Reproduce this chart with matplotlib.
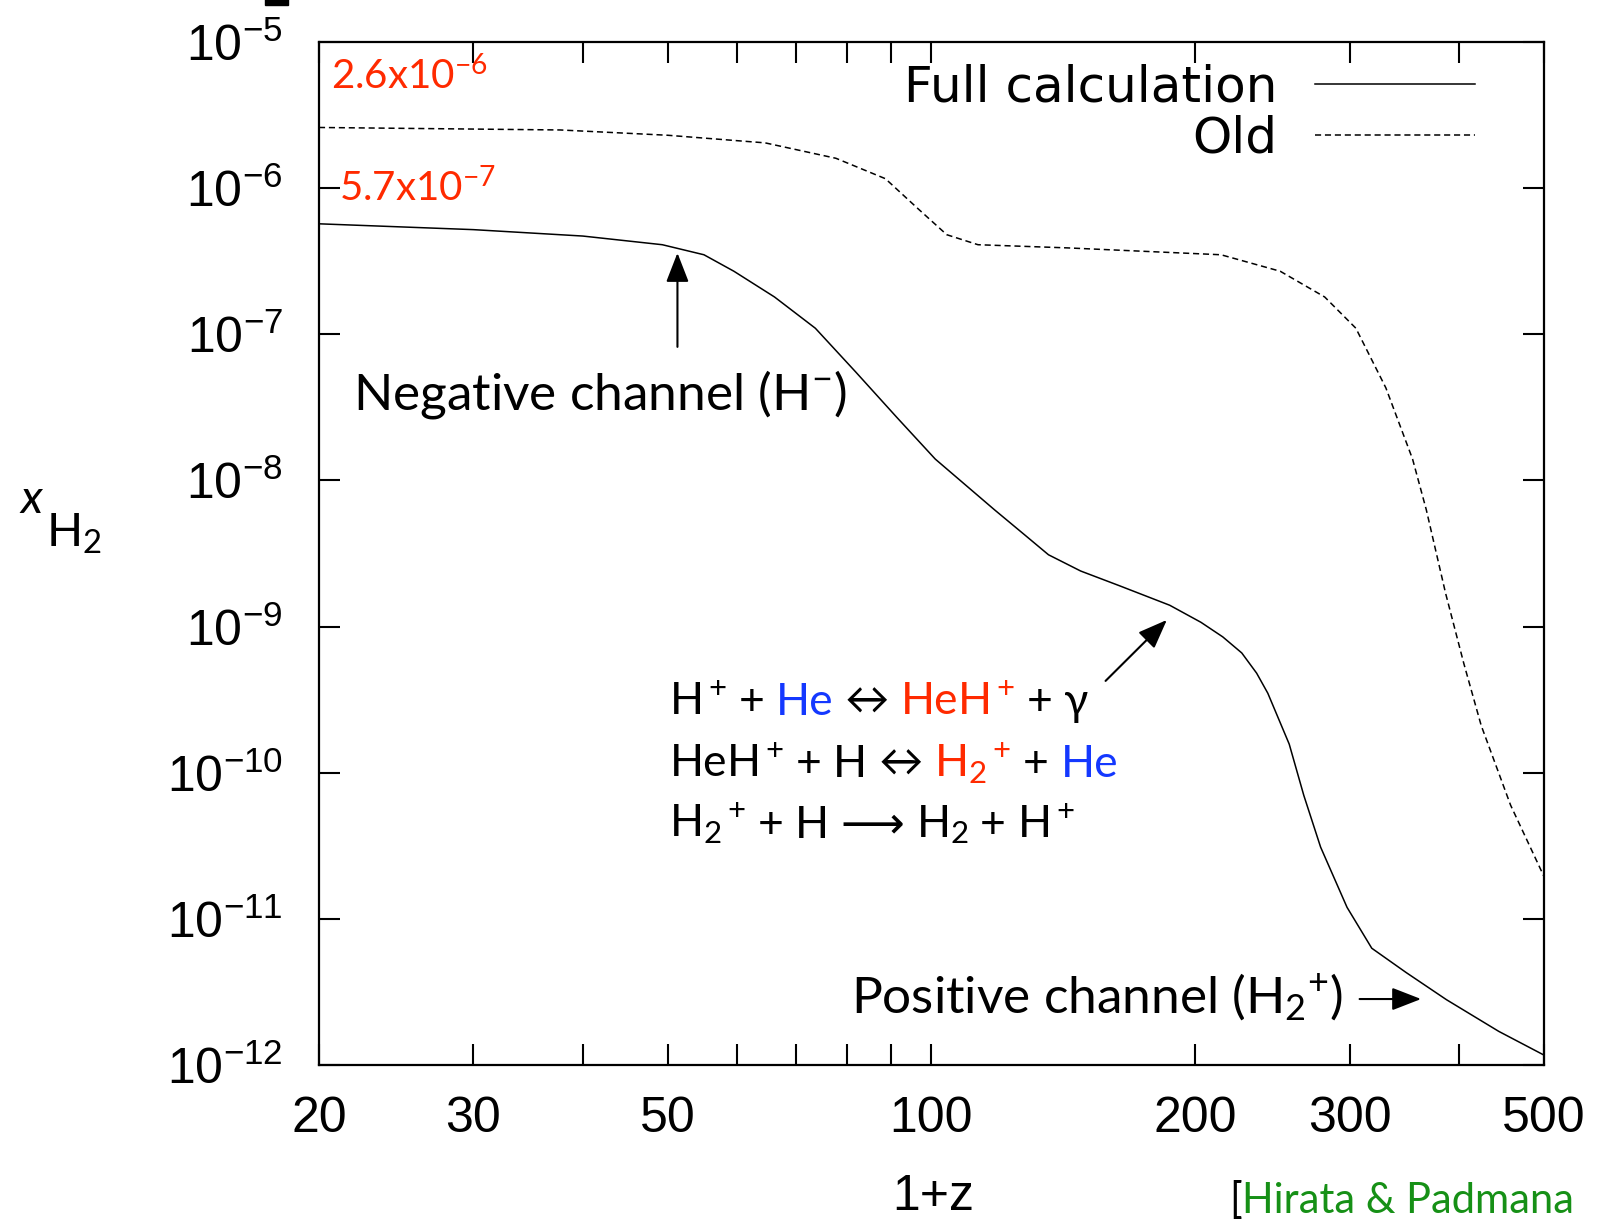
import matplotlib
matplotlib.use("Agg")
import matplotlib.pyplot as plt
import matplotlib.transforms as mtransforms
from matplotlib.patches import Rectangle

# values
z_full = [20, 30, 40, 49.3, 55, 59.5, 66.2, 73.7, 82.0, 91.3, 101, 118, 128, 136, 148, 164,
          187, 203, 215, 226, 235, 242, 256, 266, 278, 298, 318, 348, 387, 444, 500]
x_full = [5.7e-7, 5.2e-7, 4.7e-7, 4.1e-7, 3.5e-7, 2.7e-7, 1.8e-7, 1.1e-7, 5.5e-8, 2.7e-8,
          1.4e-8, 6.3e-9, 4.2e-9, 3.1e-9, 2.4e-9, 1.9e-9, 1.4e-9, 1.07e-9, 8.5e-10,
          6.6e-10, 4.8e-10, 3.5e-10, 1.57e-10, 7e-11, 3.1e-11, 1.2e-11, 6.3e-12, 4.3e-12,
          2.8e-12, 1.7e-12, 1.17e-12]

z_old = [20, 37.7, 50, 64.6, 77.8, 88.6, 96.6, 104.1, 113, 143, 214, 250, 281, 305, 330,
         354, 367, 386, 405, 424, 458, 500]
x_old = [2.6e-6, 2.5e-6, 2.3e-6, 2.04e-6, 1.6e-6, 1.16e-6, 7.2e-7, 4.8e-7, 4.1e-7, 3.9e-7,
         3.5e-7, 2.7e-7, 1.8e-7, 1.1e-7, 4.3e-8, 1.4e-8, 6.3e-9, 1.7e-9, 5.6e-10, 2.1e-10,
         6e-11, 1.95e-11]

xtick_vals = [20, 30, 50, 100, 200, 300, 500]
xminor_vals = [40, 60, 70, 80, 90, 400]
ytick_exps = [-12, -11, -10, -9, -8, -7, -6, -5]

RED = "#ff2a00"
BLUE = "#1438ff"
GREEN = "#169016"
TXT = ["Lato", "DejaVu Sans"]

plt.rcParams["mathtext.fontset"] = "custom"
plt.rcParams["mathtext.rm"] = "Lato"
plt.rcParams["mathtext.it"] = "Lato:italic"

fig = plt.figure(figsize=(15.98, 12.2), dpi=100)
ax = fig.add_axes([0.1996, 0.127, 0.7666, 0.8386])

ax.plot(z_full, x_full, color="black", lw=1.1, label="Full calculation")
ax.plot(z_old, x_old, color="black", lw=1.1, ls=(0, (4, 2.5)), label="Old")

ax.set_xscale("log")
ax.set_yscale("log")
ax.set_xlim(20, 500)
ax.set_ylim(1e-12, 1e-5)

ax.set_xticks(xtick_vals)
ax.set_xticklabels([str(v) for v in xtick_vals])
ax.set_xticks(xminor_vals, minor=True)
ax.set_xticklabels([], minor=True)
ax.set_yticks([10.0 ** e for e in ytick_exps])
ax.set_yticklabels([r"$\mathregular{10^{%d}}$" % e for e in ytick_exps])
ax.yaxis.set_minor_locator(matplotlib.ticker.NullLocator())

ax.tick_params(which="both", direction="in", length=15, width=1.5, top=True, right=True,
               labelsize=36, pad=22)
ax.tick_params(axis="y", pad=26)
for lab in ax.get_xticklabels() + ax.get_yticklabels():
    lab.set_family("Liberation Sans")
for sp in ax.spines.values():
    sp.set_linewidth(1.6)

leg = ax.legend(loc="upper right", frameon=False, markerfirst=False, fontsize=36,
                handlelength=3.2, handletextpad=0.75, labelspacing=0.05,
                borderaxespad=0.2, bbox_to_anchor=(0.968, 1.008),
                prop={"family": "DejaVu Sans", "size": 36})

# red values at the left
ax.text(20.65, 5.8e-6, r"$\mathregular{2.6x10^{-6}}$", color=RED, fontsize=29,
        family=TXT, va="center")
ax.text(21.1, 1.0e-6, r"$\mathregular{5.7x10^{-7}}$", color=RED, fontsize=29,
        family=TXT, va="center")

# arrows
arrowprops = dict(arrowstyle="-|>,head_length=1.8,head_width=0.7", color="black",
                  lw=1.5, shrinkA=0, shrinkB=0)
ax.annotate("", xy=(51.3, 3.6e-7), xytext=(51.3, 8.2e-8), arrowprops=arrowprops)
ax.annotate("", xy=(185.6, 1.11e-9), xytext=(158, 4.25e-10), arrowprops=arrowprops)
ax.annotate("", xy=(362, 2.83e-12), xytext=(308, 2.83e-12), arrowprops=arrowprops)

ax.text(21.9, 3.9e-8, r"Negative channel ($\mathregular{H^{-}}$)", fontsize=37,
        family=TXT, va="center")
ax.text(295, 2.9e-12, r"Positive channel ($\mathregular{H_2{}^{+}}$)", fontsize=37,
        family=TXT, va="center", ha="right")


def chain(x, y, pieces, fs=32):
    renderer = fig.canvas.get_renderer()
    probe = fig.text(0.5, 0.5, "a a", fontsize=fs, family=TXT)
    w_sp = probe.get_window_extent(renderer).width
    probe.set_text("aa")
    w_sp -= probe.get_window_extent(renderer).width
    probe.remove()
    off = 0.0
    for s, c in pieces:
        if s.strip() == "":
            off += w_sp * len(s)
            continue
        tr = mtransforms.offset_copy(ax.transData, fig=fig, x=off, y=0, units="dots")
        t = ax.text(x, y, s, color=c, fontsize=fs, family=TXT, va="baseline",
                    transform=tr)
        off += t.get_window_extent(renderer).width


K = "black"
chain(50.2, 2.5e-10, [(r"$\mathregular{H^+}$", K), (" ", K), ("+", K), (" ", K),
                      ("He", BLUE), (" ", K), ("\u2194", K), (" ", K),
                      (r"$\mathregular{HeH^+}$", RED), (" ", K), ("+", K), (" ", K),
                      ("\u03b3", K)])
chain(50.2, 9.4e-11, [(r"$\mathregular{HeH^+}$", K), (" ", K), ("+", K), (" ", K),
                      ("H", K), (" ", K), ("\u2194", K), (" ", K),
                      (r"$\mathregular{H_2{}^+}$", RED), (" ", K), ("+", K), (" ", K),
                      ("He", BLUE)])
chain(50.2, 3.6e-11, [(r"$\mathregular{H_2{}^+}$", K), (" ", K), ("+", K), (" ", K),
                      ("H", K), (" ", K), ("\u27f6", K), (" ", K),
                      (r"$\mathregular{H_2}$", K), (" ", K), ("+", K), (" ", K),
                      (r"$\mathregular{H^+}$", K)])

# axis labels
fig.text(0.013, 0.590, "x", fontsize=34, family="Lato", style="italic", va="center")
fig.text(0.029, 0.562, r"$\mathregular{H_2}$", fontsize=34, family="Lato", va="center")
fig.text(0.584, 0.0, "1+z", fontsize=36, family="Liberation Sans", ha="center",
         va="bottom")
fig.text(0.769, 0.0, "[", fontsize=30, family="Lato", va="bottom")
fig.text(0.777, 0.0, "Hirata & Padmana", fontsize=30, family="Lato", color=GREEN,
         va="bottom")
fig.patches.append(Rectangle((0.166, 0.996), 0.014, 0.01, transform=fig.transFigure,
                             color="black"))

fig.savefig("out.png", dpi=100)
